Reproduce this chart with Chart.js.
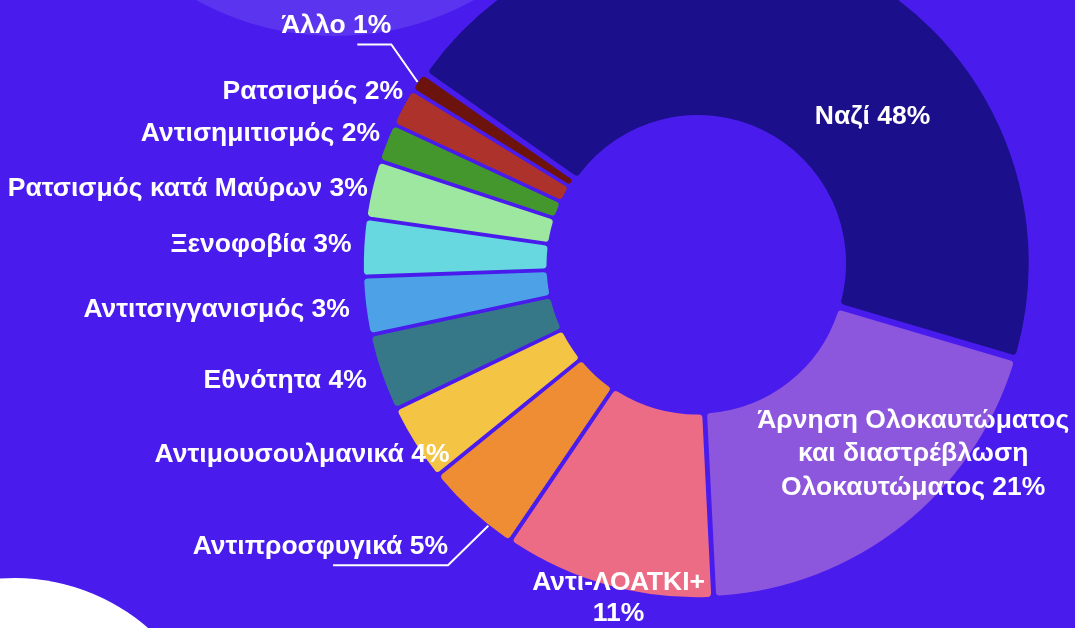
<!DOCTYPE html>
<html lang="el">
<head>
<meta charset="utf-8">
<title>Κατηγορίες ρητορικής μίσους</title>
<script src="https://cdn.jsdelivr.net/npm/chart.js@4.4.1/dist/chart.umd.min.js"></script>
<style>
    html, body {
        margin: 0;
        padding: 0;
        width: 1075px;
        height: 628px;
        overflow: hidden;
        background: #491ced;
    }
    .blob {
        position: absolute;
        border-radius: 50%;
    }
    .blob-top {
        left: 49px;
        top: -536px;
        width: 572px;
        height: 572px;
        background: #5b34f0;
    }
    .blob-bottom {
        left: -187px;
        top: 578px;
        width: 404px;
        height: 404px;
        background: #ffffff;
    }
    #hate_speech {
        position: absolute;
        left: 0;
        top: 0;
    }
</style>
</head>
<body>
<div class="blob blob-top"></div>
<div class="blob blob-bottom"></div>
<canvas id="hate_speech" width="1075" height="628"></canvas>

<script>
// data, clockwise from the top-right slice
const categories = [
    'Ναζί',
    'Άρνηση Ολοκαυτώματος και διαστρέβλωση Ολοκαυτώματος',
    'Αντι-ΛΟΑΤΚΙ+',
    'Αντιπροσφυγικά',
    'Αντιμουσουλμανικά',
    'Εθνότητα',
    'Αντιτσιγγανισμός',
    'Ξενοφοβία',
    'Ρατσισμός κατά Μαύρων',
    'Αντισημιτισμός',
    'Ρατσισμός',
    'Άλλο'
];
const shares = [48, 21, 11, 5, 4, 4, 3, 3, 3, 2, 2, 1];
const sliceColors = [
    '#1b0f8b', '#8c56dd', '#ec6c86', '#ee8d34', '#f4c444', '#367888',
    '#4da1e6', '#67d7e0', '#9de7a1', '#44972d', '#ad322b', '#6c130d'
];

const bgColor = '#491ced';
const labelFont = 'bold 26.5px "Liberation Sans", Arial, sans-serif';

// where each label sits, relative to its slice (radius in px, angle shift in degrees)
const labelPlacement = [
    {r: 230, da: 24, align: 'center'},
    {r: 287, da: -10.7, align: 'center', wrap: 336, lineHeight: 33.5},
    {r: 342, da: -2.4, align: 'center', wrap: 190, lineHeight: 31},
    {connector: true, from: 334, da: -3.9, to: 390, daBend: -2.9, tail: 115},
    {r: 312, da: -5.2, align: 'right'},
    {r: 350, da: -0.5, align: 'right'},
    {r: 350, da: -0.3, align: 'right'},
    {r: 346, da: 0.4, align: 'right'},
    {r: 338, da: 0, align: 'right'},
    {r: 343, da: 0.9, align: 'right'},
    {r: 341, da: 2.2, align: 'right'},
    {connector: true, from: 334, da: -0.1, to: 377, daBend: 2.5, tail: 34}
];

function wrapText(c, text, maxWidth) {
    if (!maxWidth) return [text];
    let words = text.split(' ');
    let lines = [];
    let line = '';
    for (let w of words) {
        let test = line ? line + ' ' + w : w;
        if (line && c.measureText(test).width > maxWidth) {
            lines.push(line);
            line = w;
        } else {
            line = test;
        }
    }
    if (line) lines.push(line);
    return lines;
}

const sliceLabels = {
    id: 'sliceLabels',
    afterDatasetsDraw(chart) {
        const c = chart.ctx;
        const meta = chart.getDatasetMeta(0);
        c.save();
        c.fillStyle = '#ffffff';
        c.strokeStyle = '#ffffff';
        c.lineWidth = 2;
        c.font = labelFont;
        meta.data.forEach((arc, i) => {
            const p = labelPlacement[i];
            const {x, y, startAngle, endAngle} = arc.getProps(['x', 'y', 'startAngle', 'endAngle'], true);
            const mid = (startAngle + endAngle) / 2;
            const text = chart.data.labels[i] + ' ' + chart.data.datasets[0].data[i] + '%';

            if (p.connector) {
                const a1 = mid + p.da * Math.PI / 180;
                const a2 = mid + p.daBend * Math.PI / 180;
                const sx = x + Math.cos(a1) * p.from, sy = y + Math.sin(a1) * p.from;
                const bx = x + Math.cos(a2) * p.to, by = y + Math.sin(a2) * p.to;
                c.beginPath();
                c.moveTo(sx, sy);
                c.lineTo(bx, by);
                c.lineTo(bx - p.tail, by);
                c.stroke();
                c.textAlign = 'right';
                c.textBaseline = 'alphabetic';
                c.fillText(text, bx, by - 11);
                return;
            }

            const a = mid + p.da * Math.PI / 180;
            const lx = x + Math.cos(a) * p.r;
            const ly = y + Math.sin(a) * p.r;
            const lines = wrapText(c, text, p.wrap);
            const lh = p.lineHeight || 30;
            c.textAlign = p.align;
            c.textBaseline = 'middle';
            lines.forEach((ln, k) => {
                c.fillText(ln, lx, ly + (k - (lines.length - 1) / 2) * lh);
            });
        });
        c.restore();
    }
};

const ctx = document.getElementById('hate_speech');
const hate_chart = new Chart(ctx, {
    type: 'doughnut',
    data: {
        labels: categories,
        datasets: [
            {
                data: shares,
                backgroundColor: sliceColors,
                borderColor: bgColor,
                borderWidth: 3,
                borderRadius: 5,
                offset: 8,
                hoverOffset: 8
            }
        ]
    },
    options: {
        responsive: false,
        animation: false,
        events: [],
        rotation: -55,
        radius: 331,
        cutout: '43.9%',
        layout: {
            padding: {left: 319, right: 0, top: 0, bottom: 98}
        },
        plugins: {
            legend: {display: false},
            tooltip: {enabled: false}
        }
    },
    plugins: [sliceLabels]
});
</script>
</body>
</html>
